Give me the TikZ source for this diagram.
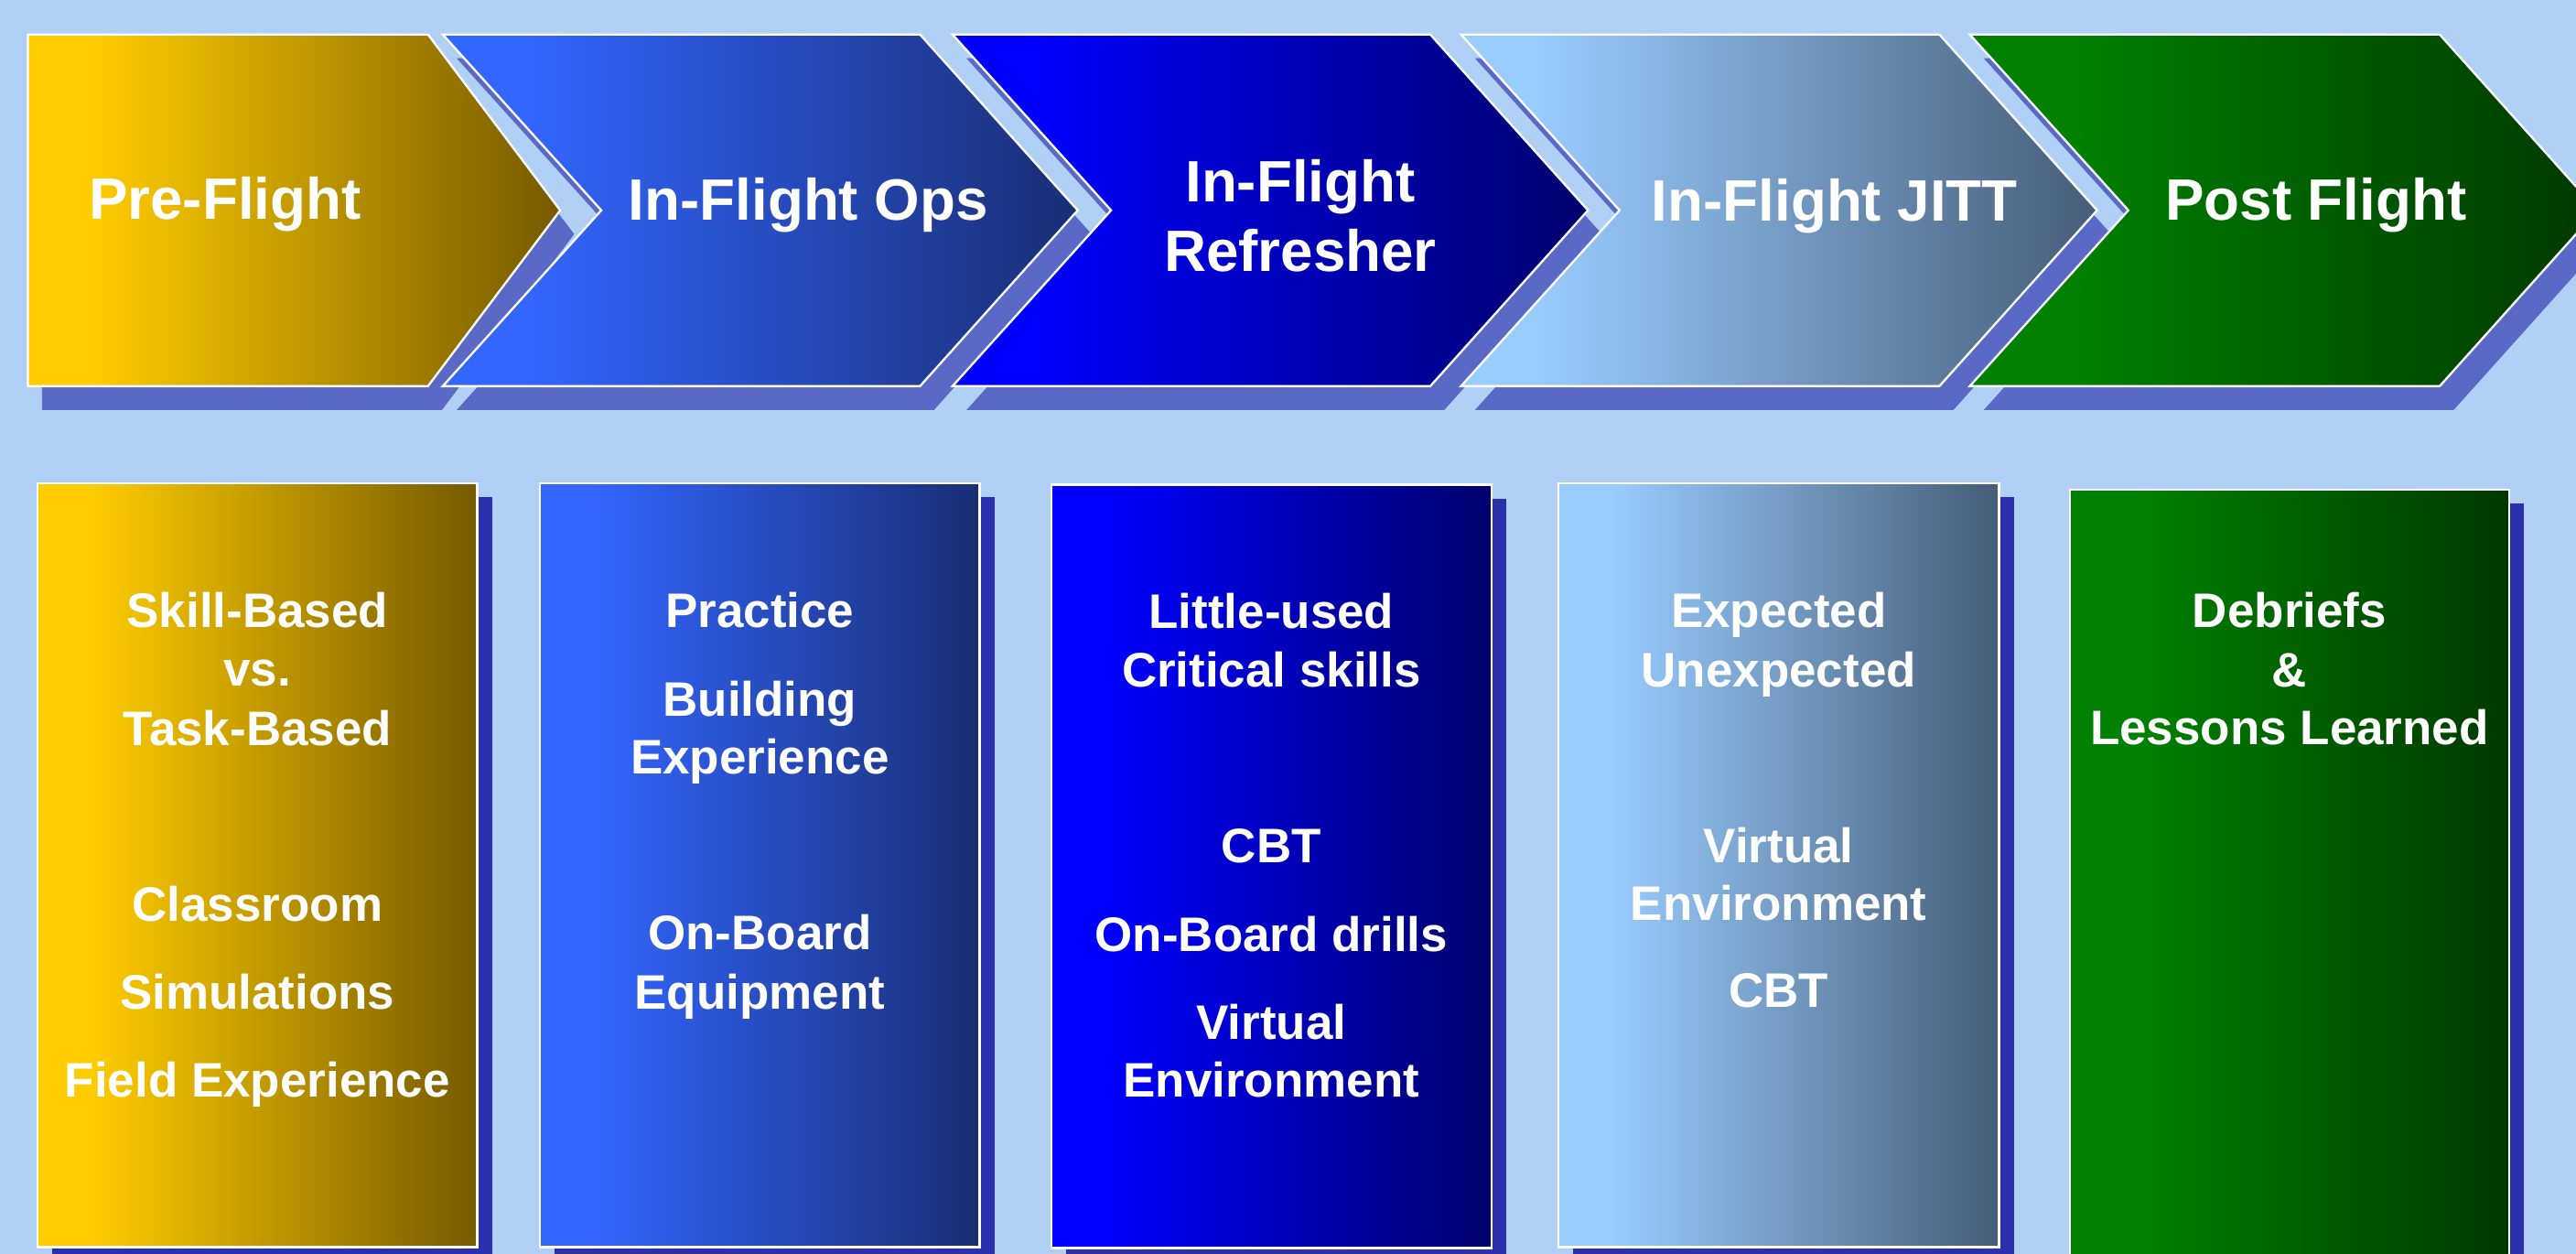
\documentclass[tikz,border=0pt]{standalone}
\usepackage{fontspec}
\setmainfont{Liberation Sans}
\definecolor{bg}{HTML}{B1D0F5}
\definecolor{chshadow}{HTML}{5A69C5}
\definecolor{bxshadow}{HTML}{2B30AD}
\definecolor{goldA}{HTML}{FFCC00}\definecolor{goldB}{HTML}{765A00}
\definecolor{royA}{HTML}{3366FF}\definecolor{royB}{HTML}{192E74}
\definecolor{bluA}{HTML}{0000FF}\definecolor{bluB}{HTML}{00006C}
\definecolor{skyA}{HTML}{99CCFF}\definecolor{skyB}{HTML}{465D78}
\definecolor{grnA}{HTML}{008000}\definecolor{grnB}{HTML}{003800}
\pgfdeclarehorizontalshading{gold}{100bp}{color(0bp)=(goldA); color(31bp)=(goldA); color(75bp)=(goldB); color(100bp)=(goldB)}
\pgfdeclarehorizontalshading{roy}{100bp}{color(0bp)=(royA); color(31bp)=(royA); color(75bp)=(royB); color(100bp)=(royB)}
\pgfdeclarehorizontalshading{blu}{100bp}{color(0bp)=(bluA); color(31bp)=(bluA); color(75bp)=(bluB); color(100bp)=(bluB)}
\pgfdeclarehorizontalshading{sky}{100bp}{color(0bp)=(skyA); color(31bp)=(skyA); color(75bp)=(skyB); color(100bp)=(skyB)}
\pgfdeclarehorizontalshading{grn}{100bp}{color(0bp)=(grnA); color(33bp)=(grnA); color(75bp)=(grnB); color(100bp)=(grnB)}
\tikzset{
  chev/.style={draw=white, line width=1.3pt, line join=miter, shade},
  chevshadow/.style={fill=chshadow, shift={(8.5,-14.5)}},
  boxshape/.style={draw=white, line width=1.3pt, shade},
  boxshadow/.style={fill=bxshadow, shift={(9,-8.5)}},
  headtext/.style={text=white, inner sep=0pt, anchor=base, font=\bfseries\fontsize{35.5}{42}\selectfont},
  bodytext/.style={text=white, inner sep=0pt, anchor=base, font=\bfseries\fontsize{29.5}{35}\selectfont},
}
\begin{document}
\begin{tikzpicture}[x=1pt,y=1pt]
\useasboundingbox (0,0) rectangle (1568,763);
\clip (0,0) rectangle (1568,763);
\fill[bg] (0,0) rectangle (1568,763);
% chevron shadows
\fill[chevshadow] (17,742) -- (260.5,742) -- (341,635) -- (260.5,528) -- (17,528) -- cycle;
\foreach \L/\R in {269.5/560, 579.8/870.6, 889.3/1180.5, 1199/1485} {
  \fill[chevshadow] (\L,742) -- (\R,742) -- (\R+96,635) -- (\R,528) -- (\L,528) -- (\L+96.5,635) -- cycle;
}
% chevrons
\path[chev, shading=gold] (17,742) -- (260.5,742) -- (341,635) -- (260.5,528) -- (17,528) -- cycle;
\foreach \L/\R/\sh in {269.5/560/roy, 579.8/870.6/blu, 889.3/1180.5/sky, 1199/1485/grn} {
  \path[chev, shading=\sh] (\L,742) -- (\R,742) -- (\R+96,635) -- (\R,528) -- (\L,528) -- (\L+96.5,635) -- cycle;
}
% chevron labels
\node[headtext] (h1) at (137,629.6) {Pre-Flight};
\node[headtext] (h2) at (492,629) {In-Flight Ops};
\node[headtext] (h3a) at (791.5,640.4) {In-Flight};
\node[headtext] (h3b) at (791.5,597.7) {Refresher};
\node[headtext] (h4) at (1116.7,628.4) {In-Flight JITT};
\node[headtext] (h5) at (1409.7,629) {Post Flight};
% box shadows
\foreach \L/\R/\T/\B in {23/290.5/469/4, 328.7/596.2/469/4, 640/907.8/468/3.5, 948.7/1216.7/468.8/4, 1259.8/1527.5/465/-20} {
  \fill[boxshadow] (\L,\B) rectangle (\R,\T);
}
% boxes
\foreach \L/\R/\T/\B/\sh in {23/290.5/469/4/gold, 328.7/596.2/469/4/roy, 640/907.8/468/3.5/blu, 948.7/1216.7/468.8/4/sky, 1259.8/1527.5/465/-20/grn} {
  \path[boxshape, shading=\sh] (\L,\B) rectangle (\R,\T);
}
% box texts
\foreach \t/\y [count=\j] in {Skill-Based/381, vs./345.5, Task-Based/309.5, Classroom/202.5, Simulations/149, Field Experience/95.5}
  \node[bodytext, name=a\j] at (156.7,\y) {\t};
\foreach \t/\y [count=\j] in {Practice/381, Building/327, Experience/292, On-Board/185, Equipment/149}
  \node[bodytext, name=b\j] at (462.5,\y) {\t};
\foreach \t/\y [count=\j] in {Little-used/380.5, Critical skills/345, CBT/238, On-Board drills/184, Virtual/130.5, Environment/95.5}
  \node[bodytext, name=c\j] at (773.9,\y) {\t};
\foreach \t/\y [count=\j] in {Expected/381, Unexpected/345, Virtual/238, Environment/203, CBT/150}
  \node[bodytext, name=d\j] at (1082.7,\y) {\t};
\node[bodytext] (e1) at (1393.6,381) {Debriefs};
\node[bodytext] (e2) at (1393.6,345) {\&};
\node[bodytext] (e3) at (1393.6,310) {Lessons Learned};
\end{tikzpicture}
\end{document}
